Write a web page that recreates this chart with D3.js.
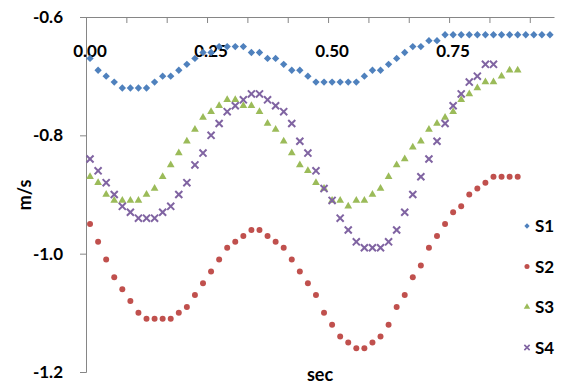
<!DOCTYPE html>
<html>
<head>
<meta charset="utf-8">
<script src="https://cdn.jsdelivr.net/npm/d3@7"></script>
<style>
  html, body { margin: 0; padding: 0; background: #fff; }
  svg { display: block; }
  text { font-family: Lato, "Open Sans", sans-serif; font-weight: bold; fill: #000; }
</style>
</head>
<body>
<svg id="chart" width="561" height="386"></svg>
<script>
// Velocity samples at 60 Hz (one category per 1/60 s)
const categoryCount = 58;
const xTickLabels = ["0.00", "0.25", "0.50", "0.75"];
const xLabelIndex = [0, 15, 30, 45];
const yTicks = [-0.6, -0.8, -1.0, -1.2];
const seriesNames = ["S1", "S2", "S3", "S4"];

const s1 = [-0.67, -0.69, -0.70, -0.71, -0.72, -0.72, -0.72, -0.72, -0.71, -0.70,
            -0.70, -0.69, -0.68, -0.67, -0.66, -0.66, -0.65, -0.65, -0.65, -0.65,
            -0.66, -0.66, -0.67, -0.67, -0.68, -0.69, -0.69, -0.70, -0.71, -0.71,
            -0.71, -0.71, -0.71, -0.71, -0.70, -0.69, -0.69, -0.68, -0.67, -0.66,
            -0.65, -0.65, -0.64, -0.64, -0.63, -0.63, -0.63, -0.63, -0.63, -0.63,
            -0.63, -0.63, -0.63, -0.63, -0.63, -0.63, -0.63, -0.63];
const s2 = [-0.95, -0.98, -1.01, -1.04, -1.06, -1.08, -1.10, -1.11, -1.11, -1.11,
            -1.11, -1.10, -1.09, -1.07, -1.05, -1.03, -1.01, -0.99, -0.98, -0.97,
            -0.96, -0.96, -0.97, -0.98, -0.99, -1.01, -1.03, -1.05, -1.07, -1.10,
            -1.12, -1.14, -1.15, -1.16, -1.16, -1.15, -1.14, -1.12, -1.09, -1.07,
            -1.04, -1.02, -0.99, -0.97, -0.95, -0.93, -0.92, -0.90, -0.89, -0.88,
            -0.87, -0.87, -0.87, -0.87];
const s3 = [-0.87, -0.88, -0.90, -0.91, -0.91, -0.91, -0.91, -0.90, -0.89, -0.87,
            -0.85, -0.83, -0.81, -0.79, -0.77, -0.76, -0.75, -0.74, -0.74, -0.75,
            -0.75, -0.76, -0.78, -0.79, -0.81, -0.83, -0.85, -0.86, -0.88, -0.89,
            -0.91, -0.91, -0.92, -0.91, -0.91, -0.90, -0.89, -0.87, -0.85, -0.84,
            -0.82, -0.81, -0.79, -0.78, -0.77, -0.76, -0.74, -0.73, -0.72, -0.71,
            -0.71, -0.70, -0.69, -0.69];
const s4 = [-0.84, -0.86, -0.88, -0.90, -0.92, -0.93, -0.94, -0.94, -0.94, -0.93,
            -0.92, -0.90, -0.88, -0.85, -0.83, -0.80, -0.78, -0.76, -0.75, -0.74,
            -0.73, -0.73, -0.74, -0.75, -0.76, -0.78, -0.81, -0.83, -0.86, -0.89,
            -0.91, -0.94, -0.96, -0.98, -0.99, -0.99, -0.99, -0.98, -0.96, -0.93,
            -0.90, -0.87, -0.84, -0.81, -0.78, -0.75, -0.73, -0.71, -0.70, -0.68,
            -0.68];

const colors = ["#4F81BD", "#C0504D", "#9BBB59", "#8064A2"];

const svg = d3.select("#chart");
const plot = { left: 86, right: 554, top: 17, bottom: 372 };

const x = d3.scaleBand().domain(d3.range(categoryCount)).range([plot.left, plot.right]).paddingInner(0).paddingOuter(0);
const xEdge = d3.scaleLinear().domain([0, categoryCount]).range([plot.left, plot.right]);
const y = d3.scaleLinear().domain([-1.2, -0.6]).range([plot.bottom, plot.top]);
const cx = i => x(i) + x.bandwidth() / 2;

const axisColor = "#868686";

// Y axis
const yAxis = svg.append("g")
  .attr("transform", `translate(${plot.left},0)`)
  .call(d3.axisLeft(y).tickValues(yTicks).tickSize(6).tickPadding(17)
    .tickFormat(d => d.toFixed(1)));
yAxis.select(".domain").attr("stroke", axisColor);
yAxis.selectAll(".tick line").attr("stroke", axisColor);
yAxis.selectAll(".tick text").attr("font-size", 17).attr("font-family", "Lato").attr("font-weight", "bold").attr("fill", "#000");

// X axis sits at the top (y = -0.6), tick marks between categories
const xAxis = svg.append("g")
  .attr("transform", `translate(0,${y(-0.6)})`)
  .call(d3.axisBottom(xEdge).tickValues(d3.range(0, categoryCount, 5)).tickSize(6).tickSizeOuter(0).tickFormat(""));
xAxis.select(".domain").attr("stroke", axisColor);
xAxis.selectAll(".tick line").attr("stroke", axisColor);

svg.append("g").selectAll("text")
  .data(xLabelIndex)
  .join("text")
  .attr("x", d => cx(d))
  .attr("y", 57)
  .attr("text-anchor", "middle")
  .attr("font-size", 17)
  .text((d, k) => xTickLabels[k]);

// Axis titles
svg.append("text")
  .attr("transform", "translate(31,195) rotate(-90)")
  .attr("text-anchor", "middle")
  .attr("font-size", 18)
  .text("m/s");
svg.append("text")
  .attr("x", 320).attr("y", 381)
  .attr("text-anchor", "middle")
  .attr("font-size", 18)
  .text("sec");

// Marker shapes
const diamond = d3.symbol(d3.symbolSquare, 27)();
const circle = d3.symbol(d3.symbolCircle, 28)();
const triangle = d3.symbol(d3.symbolTriangle, 26)();
const cross = d3.symbol(d3.symbolX, 34)();

function drawSeries(values, k) {
  const g = svg.append("g");
  const pts = g.selectAll("path").data(values).join("path")
    .attr("transform", (d, i) => `translate(${cx(i)},${y(d)})` + (k === 0 ? " rotate(45)" : ""));
  if (k === 0) pts.attr("d", diamond).attr("fill", colors[0]);
  if (k === 1) pts.attr("d", circle).attr("fill", colors[1]);
  if (k === 2) pts.attr("d", triangle).attr("fill", colors[2]);
  if (k === 3) pts.attr("d", cross).attr("fill", "none").attr("stroke", colors[3]).attr("stroke-width", 2);
}
[s1, s2, s3, s4].forEach(drawSeries);

// Legend
const legend = svg.append("g");
const legendY = d3.scaleLinear().domain([0, 3]).range([226, 347.5]);
const legendShapes = [
  d3.symbol(d3.symbolSquare, 14)(),
  d3.symbol(d3.symbolCircle, 20)(),
  d3.symbol(d3.symbolTriangle, 18)(),
  d3.symbol(d3.symbolX, 20)()
];
seriesNames.forEach((name, k) => {
  const p = legend.append("path")
    .attr("d", legendShapes[k])
    .attr("transform", `translate(527,${legendY(k)})` + (k === 0 ? " rotate(45)" : ""));
  if (k === 3) p.attr("fill", "none").attr("stroke", colors[k]).attr("stroke-width", 1.6);
  else p.attr("fill", colors[k]);
  legend.append("text")
    .attr("x", 535).attr("y", legendY(k))
    .attr("dy", "0.36em")
    .attr("font-size", 17)
    .text(name);
});
</script>
</body>
</html>
